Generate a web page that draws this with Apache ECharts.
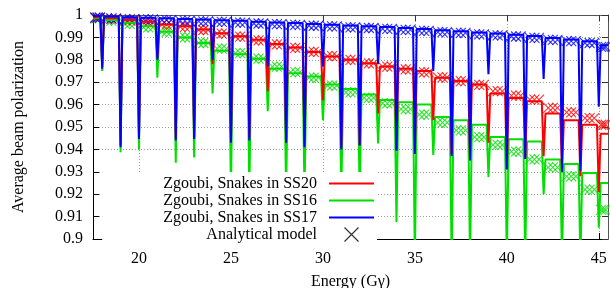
<!DOCTYPE html>
<html>
<head>
<meta charset="utf-8">
<script src="https://cdn.jsdelivr.net/npm/echarts@6/dist/echarts.min.js"></script>
<style>
  html, body { margin: 0; padding: 0; background: #fff; }
  #chart { width: 610px; height: 288px; }
</style>
</head>
<body>
<div id="chart"></div>
<script>
// resonance positions (G gamma), one dip per integer
var dips = [18, 19, 20, 21, 22, 23, 24, 25, 26, 27, 28, 29, 30, 31, 32, 33, 34, 35, 36, 37, 38, 39, 40, 41, 42, 43, 44, 45];

// plateau levels: before 18, 18-19, ..., 44-45, after 45
var ss20Level = [0.9990, 0.9985, 0.9978, 0.9970, 0.9958, 0.9950, 0.9935, 0.9918, 0.9905, 0.9890, 0.9870, 0.9855, 0.9835, 0.9815, 0.9800,
                 0.9785, 0.9770, 0.9760, 0.9750, 0.9720, 0.9705, 0.9690, 0.9650, 0.9630, 0.9615, 0.9560, 0.9530, 0.9510, 0.9470];
var ss16Level = [0.9985, 0.9978, 0.9965, 0.9950, 0.9925, 0.9900, 0.9875, 0.9840, 0.9825, 0.9805, 0.9760, 0.9740, 0.9725, 0.9690, 0.9670,
                 0.9645, 0.9620, 0.9610, 0.9600, 0.9545, 0.9530, 0.9510, 0.9455, 0.9445, 0.9435, 0.9355, 0.9335, 0.9295, 0.9250];
var ss17Level = [0.9995, 0.9993, 0.9990, 0.9988, 0.9985, 0.9982, 0.9980, 0.9977, 0.9974, 0.9970, 0.9967, 0.9964, 0.9960, 0.9957, 0.9953,
                 0.9950, 0.9946, 0.9942, 0.9937, 0.9932, 0.9928, 0.9922, 0.9917, 0.9912, 0.9906, 0.9897, 0.9891, 0.9883, 0.9865];

// minimum reached in each dip (18 ... 45)
var ss20Dip = [0.977, 0.942, 0.945, 0.981, 0.945, 0.945, 0.978, 0.944, 0.945, 0.966, 0.944, 0.942, 0.962, 0.941,
               0.942, 0.956, 0.940, 0.939, 0.953, 0.938, 0.936, 0.943, 0.932, 0.936, 0.937, 0.931, 0.928, 0.921];
var ss16Dip = [0.975, 0.9387, 0.940, 0.972, 0.934, 0.9364, 0.965, 0.920, 0.920, 0.957, 0.920, 0.920, 0.953, 0.920,
               0.920, 0.9427, 0.9076, 0.890, 0.9375, 0.890, 0.890, 0.9277, 0.890, 0.890, 0.920, 0.890, 0.890, 0.905];
var ss17Dip = [0.976, 0.941, 0.9446, 0.980, 0.944, 0.9446, 0.980, 0.943, 0.944, 0.977, 0.943, 0.941, 0.977, 0.940,
               0.9417, 0.978, 0.9394, 0.938, 0.975, 0.937, 0.935, 0.9736, 0.931, 0.9357, 0.9714, 0.930, 0.9305, 0.959];

// analytical model, one level per plateau
var ss20Model = [0.9988, 0.9983, 0.9976, 0.9967, 0.9957, 0.9947, 0.9933, 0.9917, 0.9903, 0.9887, 0.9869, 0.9853, 0.9835, 0.9816, 0.9800,
                 0.9784, 0.9770, 0.9757, 0.9744, 0.9722, 0.9705, 0.9688, 0.9660, 0.9640, 0.9622, 0.9585, 0.9565, 0.9540, 0.9510];
var ss16Model = [0.9985, 0.9975, 0.9960, 0.9945, 0.9925, 0.9900, 0.9875, 0.9850, 0.9830, 0.9805, 0.9770, 0.9745, 0.9720, 0.9685, 0.9655,
                 0.9630, 0.9605, 0.9580, 0.9555, 0.9520, 0.9485, 0.9455, 0.9420, 0.9390, 0.9355, 0.9320, 0.9280, 0.9220, 0.9130];
var ss17Model = [0.9988, 0.9985, 0.9982, 0.9980, 0.9977, 0.9974, 0.9972, 0.9969, 0.9966, 0.9962, 0.9959, 0.9956, 0.9952, 0.9949, 0.9945,
                 0.9942, 0.9938, 0.9934, 0.9929, 0.9924, 0.9920, 0.9914, 0.9909, 0.9904, 0.9898, 0.9889, 0.9883, 0.9875, 0.9858];

var X_MIN = 17.5, X_MAX = 45.5, DIP_W = 0.1;
var CROSS = 'path://M0,0L10,10M10,0L0,10';
var FONT = 'Liberation Serif';

// plateau -> dip -> plateau
function buildLine(level, dipMin) {
    var pts = [[X_MIN, level[0]]];
    for (var i = 0; i < dips.length; i++) {
        pts.push([dips[i] - DIP_W, level[i]]);
        pts.push([dips[i], dipMin[i]]);
        pts.push([dips[i] + DIP_W, level[i + 1]]);
    }
    pts.push([X_MAX, level[dips.length]]);
    return pts;
}
// three crosses on each plateau
function buildModel(model) {
    var pts = [];
    for (var i = 0; i < model.length; i++) {
        var a = i == 0 ? X_MIN : dips[i - 1];
        var b = i == dips.length ? X_MAX : dips[i];
        for (var f of [0.25, 0.5, 0.75]) pts.push([a + (b - a) * f, model[i]]);
    }
    return pts;
}

function lineSeries(name, color, level, dipMin) {
    return {
        name: name, type: 'line', data: buildLine(level, dipMin),
        symbol: 'none', showSymbol: false, clip: true,
        lineStyle: { color: color, width: 2 }, itemStyle: { color: color }
    };
}
function modelSeries(name, color, model) {
    return {
        name: name, type: 'scatter', data: buildModel(model),
        symbol: CROSS, symbolSize: 10, clip: false,
        itemStyle: { color: 'transparent', borderColor: color, borderWidth: 1.1 }
    };
}
// legend rows for the lines: no marker on the sample line
function lineKey(name) {
    return { name: name, itemStyle: { opacity: 0 } };
}

var RED = '#ff0000', GREEN = '#00e000', BLUE = '#0000ff';

var chart = echarts.init(document.getElementById('chart'));
chart.setOption({
    animation: false,
    grid: { left: 93, right: 2, top: 15, bottom: 49, containLabel: false, outerBoundsMode: 'none' },
    legend: {
        data: [
            lineKey('Zgoubi, Snakes in SS20'), lineKey('Zgoubi, Snakes in SS16'), lineKey('Zgoubi, Snakes in SS17'),
            { name: 'Analytical model', icon: CROSS, itemStyle: { color: 'transparent', borderColor: '#000', borderWidth: 1.2 } }
        ],
        orient: 'vertical', align: 'right',
        right: 233, top: 172,
        padding: [3.5, 2, 0, 61],
        itemWidth: 45, itemHeight: 14, itemGap: 1,
        backgroundColor: '#fff',
        selectedMode: false,
        textStyle: { fontFamily: FONT, fontSize: 16, color: '#000', lineHeight: 14, padding: [0, 7, 0, 0] }
    },
    xAxis: [{
        type: 'value', min: X_MIN, max: X_MAX, splitNumber: 5, position: 'bottom',
        name: 'Energy (G\u03b3)', nameLocation: 'middle', nameGap: 35,
        nameTextStyle: { fontFamily: FONT, fontSize: 16, color: '#000' },
        axisLine: { lineStyle: { color: '#000', width: 1 } },
        axisTick: { inside: true, length: 6, lineStyle: { color: '#000' } },
        axisLabel: { showMinLabel: false, showMaxLabel: false, margin: 12, fontFamily: FONT, fontSize: 16, color: '#000' },
        splitLine: { show: true, lineStyle: { color: '#999', type: [1, 2], width: 1 } }
    }, {
        type: 'value', min: X_MIN, max: X_MAX, splitNumber: 5, position: 'top',
        axisLine: { lineStyle: { color: '#555', width: 1 } },
        axisTick: { inside: true, length: 6, lineStyle: { color: '#333' } },
        axisLabel: { show: false }, splitLine: { show: false }
    }],
    yAxis: [{
        type: 'value', min: 0.9, max: 1, interval: 0.01, position: 'left',
        name: 'Average beam polarization', nameLocation: 'middle', nameGap: 66,
        nameTextStyle: { fontFamily: FONT, fontSize: 16, color: '#000' },
        axisLine: { show: true, lineStyle: { color: '#000', width: 1 } },
        axisTick: { show: true, inside: true, length: 6, lineStyle: { color: '#000' } },
        axisLabel: { margin: 10, fontFamily: FONT, fontSize: 16, color: '#000' },
        splitLine: { show: true, lineStyle: { color: '#999', type: [1, 2], width: 1 } }
    }, {
        type: 'value', min: 0.9, max: 1, interval: 0.01, position: 'right',
        axisLine: { show: true, lineStyle: { color: '#555', width: 1 } },
        axisTick: { show: true, inside: true, length: 6, lineStyle: { color: '#333' } },
        axisLabel: { show: false }, splitLine: { show: false }
    }],
    series: [
        lineSeries('Zgoubi, Snakes in SS16', GREEN, ss16Level, ss16Dip),
        modelSeries('model SS16', GREEN, ss16Model),
        lineSeries('Zgoubi, Snakes in SS20', RED, ss20Level, ss20Dip),
        modelSeries('model SS20', RED, ss20Model),
        lineSeries('Zgoubi, Snakes in SS17', BLUE, ss17Level, ss17Dip),
        modelSeries('model SS17', BLUE, ss17Model),
        {   // legend entry only
            name: 'Analytical model', type: 'scatter', data: [], symbol: CROSS,
            itemStyle: { color: 'transparent', borderColor: '#000', borderWidth: 1.2 }
        }
    ]
});
</script>
</body>
</html>
